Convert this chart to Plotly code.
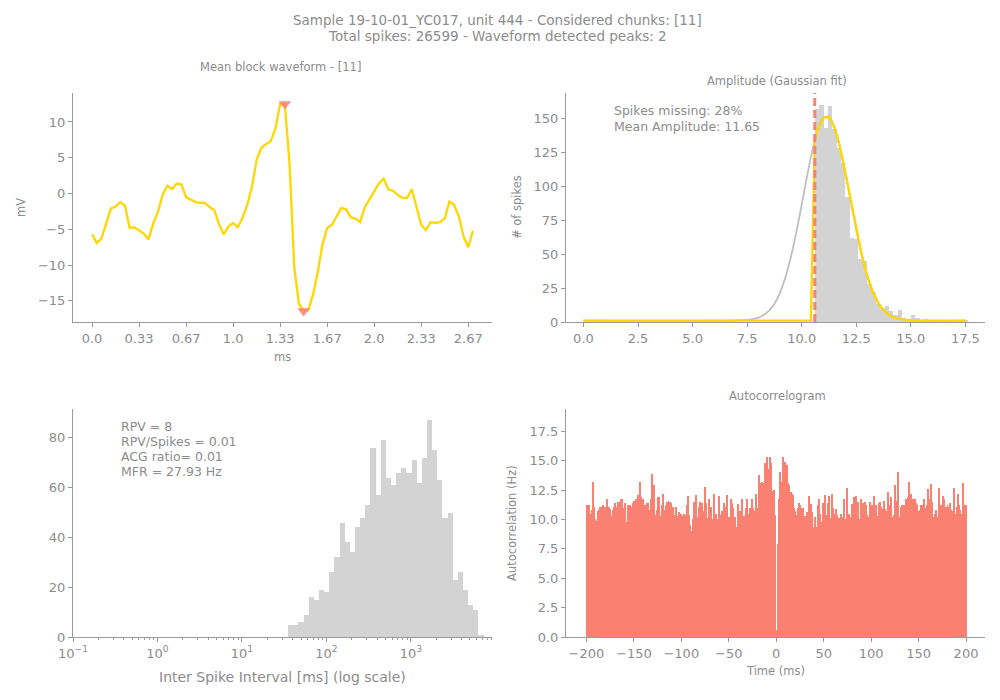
import numpy as np
import plotly.graph_objs as go

# ---- data ----

# mean block waveform (mV), one value per sample (30 kHz)
waveform_mv = [-5.7, -6.9, -6.3, -4.2, -2.1, -1.8, -1.2, -1.7, -4.8, -4.7,
               -5.1, -5.6, -6.4, -4.2, -2.6, -0.2, 1.1, 0.6, 1.4, 1.3,
               -0.5, -0.9, -1.2, -1.3, -1.3, -1.9, -2.3, -4.3, -5.7, -4.6,
               -4.1, -4.7, -3.4, -1.6, 0.9, 4.7, 6.4, 6.9, 7.3, 9.1,
               12.5, 12.5, 4.2, -10.3, -15.4, -16.4, -16.3, -14.1, -11.0, -7.1,
               -4.8, -4.4, -3.1, -2.0, -2.2, -3.3, -3.5, -4.0, -1.9, -0.8,
               0.1, 1.4, 2.1, 0.6, 0.4, -0.2, -0.6, -0.6, 0.6, -1.9,
               -4.4, -5.1, -4.0, -4.1, -4.0, -3.5, -1.1, -1.6, -3.2, -6.0,
               -7.5, -5.2]
peak_samples = [41, 45]
wave_tickvals = [0, 10, 20, 30, 40, 50, 60, 70, 80]
wave_ticktext = ['0.0', '0.33', '0.67', '1.0', '1.33', '1.67', '2.0', '2.33', '2.67']

# amplitude histogram (bins of 0.2 starting at the detection threshold)
amp_threshold = 10.6
amp_bin_width = 0.2
amp_counts = [157, 160, 143, 159, 142, 128, 117, 92, 62, 61,
              46, 45, 28, 22, 13, 10, 12, 8, 5, 9,
              3, 2, 5, 3, 1, 2, 1, 1, 0, 1,
              1, 1, 0, 1, 1]
# gaussian fit curve, sampled points
fit_x = [0, 7.0, 7.5, 8.0, 8.5, 8.75, 9.0, 9.25, 9.5, 9.75, 10.0, 10.25, 10.5,
         10.75, 11.0, 11.25, 11.5, 11.75, 12.0, 12.25, 12.5, 12.75, 13.0,
         13.25, 13.5, 13.75, 14.0, 14.25, 14.5, 15.0, 17.5]
fit_y = [1, 1.1, 1.5, 3, 8.2, 13.4, 21.3, 32.7, 47.6, 65.8, 86.4, 107.6, 127,
         142, 150.3, 151, 143.4, 129, 110, 89, 68, 49.6, 34.3,
         22.6, 14.3, 8.7, 5.2, 3.2, 2.1, 1.2, 1]
cut_x = [0, 10.42, 10.6, 10.75, 11.0, 11.25, 11.5, 11.75, 12.0, 12.25, 12.5,
         12.75, 13.0, 13.25, 13.5, 13.75, 14.0, 14.25, 14.5, 15.0, 17.5]
cut_y = [1, 1, 134, 142, 150.3, 151, 143.4, 129, 110, 89, 68,
         49.6, 34.3, 22.6, 14.3, 8.7, 5.2, 3.2, 2.1, 1.2, 1]

# inter spike interval histogram (log-spaced bins)
isi_log_start = 1.546
isi_log_width = 0.0609
isi_counts = [5, 5, 6, 9, 16, 15, 19, 18, 26, 32,
              46, 38, 34, 44, 48, 53, 76, 57, 79, 64,
              61, 66, 68, 66, 71, 62, 72, 87, 75, 63,
              48, 50, 23, 26, 19, 13, 11, 1]

# autocorrelogram (Hz), 1 ms bins from -200 to 200 ms
acg_rate = [
    11.2, 10.8, 11.2, 9.8, 10.5, 10.8, 13.2, 12.2, 11.1, 10.0,
    9.9, 9.8, 10.7, 10.8, 11.1, 10.4, 11.1, 11.2, 10.5, 11.1,
    10.0, 11.7, 10.5, 11.1, 10.9, 10.3, 10.2, 10.5, 10.8, 11.1,
    11.4, 11.1, 9.2, 11.5, 10.1, 11.5, 11.7, 11.7, 11.0, 10.6,
    11.4, 9.8, 9.0, 11.2, 11.1, 11.2, 10.8, 10.5, 11.1, 11.4,
    11.6, 9.2, 11.7, 11.0, 12.1, 11.5, 13.2, 11.9, 11.5, 11.7,
    10.1, 11.2, 10.7, 11.4, 11.4, 10.8, 9.0, 10.8, 11.7, 13.9,
    10.5, 12.9, 10.4, 10.2, 10.8, 11.9, 11.9, 9.9, 10.3, 11.2,
    12.2, 10.3, 10.8, 11.2, 11.5, 11.0, 11.6, 10.8, 11.5, 11.4,
    10.1, 11.1, 10.0, 10.4, 11.1, 10.3, 9.3, 10.6, 10.4, 10.5,
    10.3, 9.2, 10.5, 10.4, 10.0, 11.2, 11.2, 12.0, 10.4, 9.5,
    8.8, 9.0, 10.0, 11.5, 9.8, 12.1, 9.2, 10.2, 11.1, 11.5,
    10.2, 11.4, 9.9, 10.7, 12.8, 10.2, 11.4, 9.6, 10.1, 11.7,
    11.0, 11.1, 9.5, 10.0, 12.2, 9.8, 10.5, 9.5, 10.0, 12.0,
    10.0, 10.4, 10.7, 8.8, 11.4, 10.5, 11.1, 9.2, 12.1, 9.0,
    10.2, 9.2, 11.7, 11.4, 11.0, 8.7, 10.2, 9.3, 9.4, 11.3,
    9.1, 10.7, 10.7, 11.7, 9.1, 9.2, 10.3, 10.3, 11.0, 11.7,
    10.2, 10.5, 11.0, 10.6, 11.7, 11.0, 9.1, 10.7, 12.2, 9.9,
    11.0, 13.8, 11.9, 13.1, 11.9, 13.2, 12.5, 13.1, 14.8, 14.6,
    15.3, 13.8, 14.3, 15.3, 14.8, 12.4, 11.7, 12.5, 10.4,
    0.6, 0.0, 7.9,
    11.7, 14.0, 13.9, 12.9, 13.2, 15.3, 14.2, 14.9, 13.4, 14.6,
    13.1, 12.9, 11.9, 12.3, 12.2, 12.1, 11.0, 10.7, 10.4, 9.1,
    11.0, 10.1, 11.4, 11.2, 10.4, 11.0, 11.0, 10.3, 10.3, 9.1,
    10.6,
    9.1, 12.0, 10.7, 11.3, 10.6, 9.4, 9.4, 10.2, 9.4, 8.7,
    11.0, 11.2, 11.7, 10.5, 9.4, 9.8, 11.4, 9.0, 12.1, 10.4,
    9.8, 11.4, 12.0, 10.0, 10.1, 12.2, 11.0, 10.4, 10.5, 10.9,
    10.9,
    10.4, 9.8, 10.1, 10.0, 10.5, 9.5, 10.2, 11.7, 9.2, 10.0,
    12.7, 10.0, 10.5, 8.8, 10.2, 11.3, 11.1, 11.9, 9.2, 10.5,
    12.0, 10.0, 11.5, 10.0, 9.1, 11.7, 9.5, 11.4, 9.4, 11.5,
    11.2, 10.4,
    9.5, 10.2, 11.5, 9.4, 11.2, 10.1, 10.4, 12.0, 9.3, 11.2,
    10.3, 10.2, 11.4, 11.5, 11.1, 10.7, 10.9, 11.6, 10.9, 10.7,
    10.4, 12.3, 11.2, 9.9, 11.9, 11.9, 9.8, 10.2, 10.4, 12.9,
    10.8,
    11.6, 14.0, 8.9, 10.2, 11.1, 11.2, 10.7, 11.2, 10.0, 11.7,
    11.5, 11.9, 13.2, 11.6, 11.6, 12.2, 10.9, 11.7, 9.2, 11.7,
    11.4, 11.2, 10.5, 10.7, 10.8, 11.2, 10.8, 11.2, 11.7, 9.8,
    11.0,
    11.2, 12.6, 11.7, 11.6, 10.9, 13.0, 11.5, 9.2, 10.2, 10.5,
    10.8, 10.2, 10.2, 12.7, 11.0, 11.2, 10.5, 12.0, 11.7, 10.0,
    11.1, 11.0, 11.2, 11.1, 10.8, 11.4, 10.8, 10.7, 9.8, 12.7,
    10.5,
    9.9, 11.1, 12.2, 11.2, 10.8, 10.5, 9.8, 13.1, 10.8, 11.2,
    11.2]

# ---- colours / fonts ----
GREY_TXT = '#8c8c8c'
GREY_LINE = '#9a9a9a'
BAR_GREY = '#d3d3d3'
SALMON = '#fa8072'
GOLD = '#ffd700'
FONT = 'DejaVu Sans'

# page body margin pushes the figure by a few pixels; compensate
OFF = 8


def px(x):
    return (x - OFF) / 1000


def py(y):
    return 1 - (y - OFF) / 700


# positions
amp_centers = amp_threshold + amp_bin_width * (np.arange(len(amp_counts)) + 0.5)
isi_centers = isi_log_start + isi_log_width * (np.arange(len(isi_counts)) + 0.5)
acg_lags = np.arange(len(acg_rate)) - len(acg_rate) / 2 + 0.5

traces = []
traces.append(go.Scatter(x=list(range(len(waveform_mv))), y=waveform_mv, mode='lines',
                         line=dict(color=GOLD, width=2.3), xaxis='x', yaxis='y'))
traces.append(go.Scatter(x=peak_samples, y=[waveform_mv[i] for i in peak_samples],
                         mode='markers', xaxis='x', yaxis='y',
                         marker=dict(symbol='triangle-down', size=11, color=SALMON, opacity=0.85)))

traces.append(go.Bar(x=amp_centers, y=amp_counts, width=amp_bin_width,
                     marker=dict(color=BAR_GREY, line=dict(width=0)), xaxis='x2', yaxis='y2'))
traces.append(go.Scatter(x=fit_x, y=fit_y, mode='lines', line=dict(color='#bfbfbf', width=1.8),
                         line_shape='spline', xaxis='x2', yaxis='y2'))
traces.append(go.Scatter(x=cut_x, y=cut_y, mode='lines', line=dict(color=GOLD, width=2.3),
                         xaxis='x2', yaxis='y2'))

traces.append(go.Bar(x=isi_centers, y=isi_counts, width=isi_log_width,
                     marker=dict(color=BAR_GREY, line=dict(width=0)), xaxis='x3', yaxis='y3'))

traces.append(go.Bar(x=acg_lags, y=acg_rate, width=1.0,
                     marker=dict(color=SALMON, line=dict(width=0)), xaxis='x4', yaxis='y4'))


def axis(domain, anchor, **kw):
    d = dict(domain=domain, anchor=anchor, showline=True, linecolor=GREY_LINE, linewidth=1,
             ticks='outside', ticklen=4, tickcolor=GREY_LINE, showgrid=False, zeroline=False,
             automargin=False, tickfont=dict(family=FONT, size=13, color=GREY_TXT))
    d.update(kw)
    return d


left_dom = [px(73), px(492)]
right_dom = [px(566), px(985)]
top_dom = [py(322), py(93)]
bot_dom = [py(637), py(409)]

minor_log = [np.log10(k * 10.0 ** e) for e in range(-1, 4) for k in range(2, 10)]

layout = go.Layout(
    width=1000, height=700, showlegend=False, plot_bgcolor='white', paper_bgcolor='white',
    margin=dict(l=0, r=0, t=0, b=0), bargap=0,
    font=dict(family=FONT, color=GREY_TXT),
    xaxis=axis(left_dom, 'y', range=[-4.05, 85.05], tickvals=wave_tickvals, ticktext=wave_ticktext),
    yaxis=axis(top_dom, 'x', range=[-17.95, 14.05], tickvals=[-15, -10, -5, 0, 5, 10]),
    xaxis2=axis(right_dom, 'y2', range=[-0.8, 18.4], tickvals=[0, 2.5, 5, 7.5, 10, 12.5, 15, 17.5],
                tickformat='.1f'),
    yaxis2=axis(top_dom, 'x2', range=[0, 168.5], tickvals=[0, 25, 50, 75, 100, 125, 150]),
    xaxis3=axis(left_dom, 'y3', range=[-1, 3.96], tickvals=[-1, 0, 1, 2, 3],
                ticktext=['10<sup>−1</sup>', '10<sup>0</sup>', '10<sup>1</sup>',
                          '10<sup>2</sup>', '10<sup>3</sup>'],
                minor=dict(tickvals=[v for v in minor_log if v < 3.96], ticklen=2,
                           tickcolor=GREY_LINE, ticks='outside')),
    yaxis3=axis(bot_dom, 'x3', range=[0, 91.6], tickvals=[0, 20, 40, 60, 80]),
    xaxis4=axis(right_dom, 'y4', range=[-221.5, 220], tickvals=[-200, -150, -100, -50, 0, 50, 100, 150, 200]),
    yaxis4=axis(bot_dom, 'x4', range=[0, 19.4], tickvals=[0, 2.5, 5, 7.5, 10, 12.5, 15, 17.5],
                tickformat='.1f'),
)

fig = go.Figure(data=traces, layout=layout)

# threshold line in the amplitude panel
fig.add_shape(type='line', x0=amp_threshold, x1=amp_threshold, y0=0, y1=1,
              xref='x2', yref='y2 domain', line=dict(color=SALMON, width=3, dash='8px,4px'))


def note(text, xpx, ypx, size=13, xanchor='center', angle=0):
    fig.add_annotation(text=text, x=px(xpx), y=py(ypx), xref='paper', yref='paper',
                       showarrow=False, xanchor=xanchor, yanchor='middle', textangle=angle,
                       font=dict(family=FONT, size=size, color=GREY_TXT))


note('Sample 19-10-01_YC017, unit 444 - Considered chunks: [11]', 497, 20, 13.5)
note('Total spikes: 26599 - Waveform detected peaks: 2', 497, 36, 13.5)
note('Mean block waveform - [11]', 280, 67, 11.5)
note('Amplitude (Gaussian fit)', 777, 81, 11.5)
note('Autocorrelogram', 777, 396, 11.5)

note('ms', 282, 357, 11.5)
note('mV', 21, 208, 11.5, angle=-90)
note('# of spikes', 517, 207, 11.5, angle=-90)
note('Inter Spike Interval [ms] (log scale)', 282, 677, 14)
note('Autocorrelation (Hz)', 512, 523, 11.5, angle=-90)
note('Time (ms)', 775, 671, 11.5)

note('Spikes missing: 28%', 612, 111, 12.5, xanchor='left')
note('Mean Amplitude: 11.65', 612, 126, 12.5, xanchor='left')

for k, line in enumerate(['RPV = 8', 'RPV/Spikes = 0.01', 'ACG ratio= 0.01', 'MFR = 27.93 Hz']):
    note(line, 119, 426 + 15 * k, 12.5, xanchor='left')

fig.write_html('out.html')
